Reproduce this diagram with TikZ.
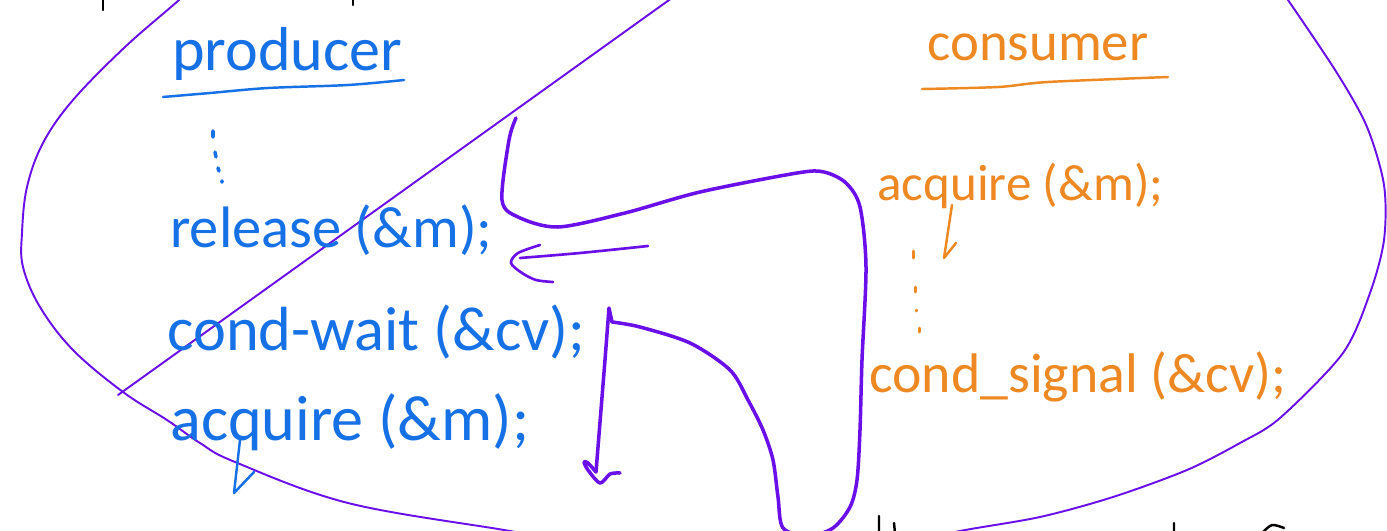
\documentclass[tikz,border=0pt]{standalone}
\usepackage{fontspec}
\setmainfont{Carlito}
\usepackage{graphicx}
\definecolor{pblue}{RGB}{22,112,230}
\definecolor{corange}{RGB}{238,136,34}
\definecolor{vio}{RGB}{106,14,234}
\newlength\pxu \setlength\pxu{0.02cm}
\newcommand\hwtext[2]{\resizebox{#1\pxu}{!}{#2}}
\tikzset{
  bluetxt/.style={text=pblue, inner sep=0pt, anchor=base west},
  orgtxt/.style={text=corange, inner sep=0pt, anchor=base west},
  outerline/.style={draw=vio, line width=1.1pt, line cap=round, line join=round},
  thickarrow/.style={draw=vio, line width=2pt, line cap=round, line join=round},
  midarrow/.style={draw=vio, line width=1.5pt, line cap=round, line join=round},
  bluepen/.style={draw=pblue, line width=1.4pt, line cap=round, line join=round},
  orgpen/.style={draw=corange, line width=1.4pt, line cap=round, line join=round},
  bluedot/.style={draw=pblue, line width=2pt, line cap=round},
  orgdot/.style={draw=corange, line width=1.7pt, line cap=round},
  blackpen/.style={draw=black, line width=1.4pt, line cap=round},
}
\begin{document}
\begin{tikzpicture}[x=0.02cm,y=-0.02cm]
\useasboundingbox (0,0) rectangle (1387,531);
\fill[white] (0,0) rectangle (1387,531);
\clip (0,0) rectangle (1387,531);

% outer loop (left part and right part)
\draw[outerline] plot[smooth, tension=0.6] coordinates {(205,-25) (179,0) (125,47) (73,100) (43,143) (27,187) (22,233) (23,267) (40,307) (73,350) (123,392) (167,420) (200,443) (235,462) (348,503) (504,530) (560,540)};
\draw[outerline] plot[smooth, tension=0.5] coordinates {(900,545) (960,531) (1040,517) (1113,497) (1187,470) (1240,443) (1280,418) (1343,353) (1370,293) (1384,240) (1384,185) (1367,127) (1337,73) (1288,0) (1275,-18)};

% diagonal line
\coordinate (d0) at (118,395);
\coordinate (d1) at (690,-15);
\draw[outerline] (d0) -- (d1);

% blue producer column
\node[bluetxt] (prod) at (172,70) {\hwtext{230}{producer}};
\draw[bluepen] plot[smooth] coordinates {(163,97) (210,93) (268,88) (348,85) (404,80)};
\draw[bluedot] (213,131) -- (213,137) (215,152) -- (216,157) (218,168) -- (219,171) (222,181) -- (222,182);
\node[bluetxt] (rel) at (170,247) {\hwtext{322}{release (\&m);}};
\node[bluetxt] (cw) at (167,350) {\hwtext{418}{cond-wait (\&cv);}};
\node[bluetxt] (acq) at (170,440) {\hwtext{359}{acquire (\&m);}};
\draw[bluepen] (240,440) -- (234,493) -- (254,472);

% orange consumer column
\node[orgtxt] (cons) at (927,60) {\hwtext{221}{consumer}};
\draw[orgpen] plot[smooth] coordinates {(922,89) (998,87) (1048,82) (1168,77)};
\node[orgtxt] (cacq) at (877,200) {\hwtext{286}{acquire (\&m);}};
\coordinate (q0) at (952,205);
\coordinate (q1) at (944,258);
\coordinate (q2) at (956,243);
\draw[orgpen] (q0) -- (q1) -- (q2);
\draw[orgdot] (913,251) -- (913,258) (915,287) -- (915,292) (916,310) -- (916,311) (919,328) -- (919,332);
\node[orgtxt] (csig) at (869,392) {\hwtext{417}{cond\_signal (\&cv);}};

% thin arrow to release
\coordinate (b0) at (648,246);
\coordinate (b1) at (520,258);
\draw[midarrow] plot[smooth] coordinates {(b0) (580,253) (b1)};
\draw[midarrow] plot[smooth] coordinates {(540,245) (518,253) (511,263) (522,273) (536,280) (553,282)};

% thick loop arrow
\coordinate (p0) at (516,118);
\coordinate (p1) at (596,472);
\draw[thickarrow] plot[smooth, tension=0.5] coordinates {(p0) (509,140) (502,200) (518,217) (558,227) (625,213) (700,192) (797,173) (824,172) (846,183) (860,207) (866,267) (862,360) (860,430) (857,480) (850,507) (833,528) (808,536) (783,528) (778,497) (773,460) (763,430) (748,400) (730,370) (690,343) (640,327) (612,322)};
\draw[thickarrow] (612,322) -- (609,308) -- (605,360) -- (p1);
\draw[thickarrow] plot[smooth] coordinates {(p1) (588,463) (584,462) (588,470) (600,483) (610,474) (620,473)};

% cut-off black marks
\draw[blackpen] (103,0) -- (103,10) (353,0) -- (353,5);
\draw[blackpen] (879,516) -- (879,533) (894,523) -- (895,533) (1174,523) -- (1174,533);
\draw[blackpen] plot[smooth] coordinates {(1262,533) (1272,525) (1284,528)};
\end{tikzpicture}
\end{document}
